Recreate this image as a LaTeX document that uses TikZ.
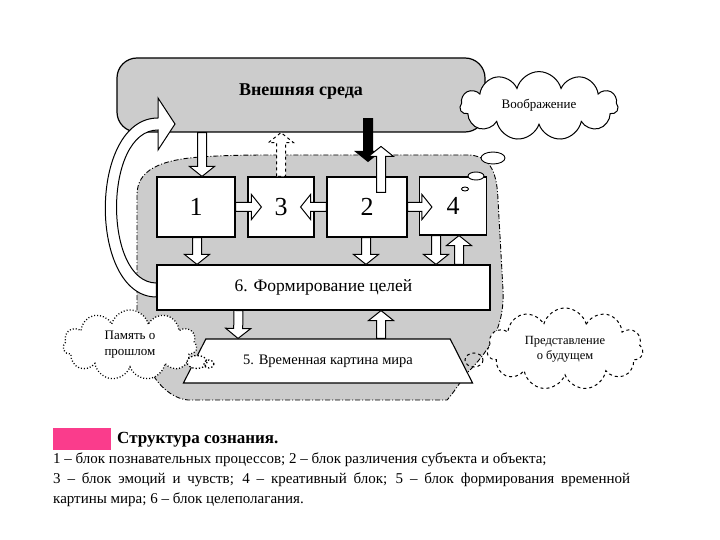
\documentclass[tikz,border=0pt]{standalone}
\usepackage{fontspec}
\setmainfont{Liberation Serif}
\usetikzlibrary{calc,shapes.geometric,shapes.symbols}
\definecolor{legendpink}{RGB}{250,60,140}
\tikzset{
  block/.style={draw, fill=white, line width=1.1pt, minimum height=60pt, font=\fontsize{26}{26}\selectfont},
  blockarrow/.style={draw, fill=white, line width=1pt, line join=miter},
  thought/.style={cloud, cloud puffs=11, aspect=2.3, draw, fill=white, line width=1pt, align=center, inner sep=1pt, font=\fontsize{13}{16}\selectfont},
  region/.style={fill=gray!40, line width=0.9pt, dash pattern=on 5pt off 2pt on 1pt off 2pt},
  legend/.style={anchor=west, inner sep=0pt, font=\fontsize{15}{17}\selectfont}
}
% hollow block arrow from #2 to #3
\newcommand\hollowarrow[3][]{%
  \draw[blockarrow,#1] let \p1=(#2), \p2=(#3),
    \n1={atan2(\y2-\y1,\x2-\x1)}, \n2={veclen(\x2-\x1,\y2-\y1)} in
    {[shift={(\p1)},rotate=\n1]
    (0,-4.5) -- (\n2-10,-4.5) -- (\n2-10,-12.5) -- (\n2,0) -- (\n2-10,12.5) -- (\n2-10,4.5) -- (0,4.5) -- cycle};
}
\begin{document}
\begin{tikzpicture}[x=1pt,y=-1pt]
\useasboundingbox[fill=white] (0,0) rectangle (720,540);
%область сознания
\draw[region] (137,320) -- (137,195) .. controls (137,170) and (160,160) .. (200,157)
  .. controls (230,155) and (250,155) .. (280,155) -- (470,155)
  .. controls (492,157) and (497,175) .. (498,200) -- (503,290)
  .. controls (505,330) and (485,355) .. (468,372)
  .. controls (458,385) and (452,395) .. (447,400) -- (188,400)
  .. controls (165,398) and (140,370) .. (137,320) -- cycle;
\node[draw, fill=gray!40, line width=1.2pt, rounded corners=20pt, minimum width=368pt, minimum height=74pt,
  font=\fontsize{18}{18}\selectfont\bfseries] (env) at (301,95) {\raisebox{10pt}{Внешняя среда}};
%блоки
\node[block, minimum width=78pt] (b1) at (196,207) {1};
\node[block, minimum width=66pt] (b3) at (281,207) {3};
\node[block, minimum width=80pt] (b2) at (367,207) {2};
\node[block, minimum width=67pt, minimum height=58pt] (b4) at (453,206) {4};
\node[block, minimum width=333pt, minimum height=45pt, font=\fontsize{17.5}{17.5}\selectfont] (b6) at (323.5,287.5) {6. Формирование целей};
\node[trapezium, trapezium angle=50, trapezium stretches=true, draw, fill=white, line width=1.1pt,
  minimum width=290pt, minimum height=44pt, font=\fontsize{14.5}{14.5}\selectfont] (b5) at (328,361) {\raisebox{3pt}{5. Временная картина мира}};
%стрелки
\hollowarrow{$(b1.north|-env.south)+(6,0)$}{$(b1.north)+(6,0)$}
\hollowarrow[dashed]{b3.north}{b3.north|-env.south}
\hollowarrow[fill=black]{$(b2.north|-env.south)+(1,-14)$}{$(b2.north)+(1,-15)$}
\hollowarrow{$(b2.north)+(14,16)$}{$(b2.north)+(14,-30)$}
\hollowarrow{b1.east}{$(b3.west)+(14,0)$}
\hollowarrow{b2.west}{$(b3.east)+(-14,0)$}
\hollowarrow{b2.east}{$(b2.east-|b4.west)+(13,0)$}
\hollowarrow{$(b1.south)+(1,0)$}{$(b1.south|-b6.north)+(1,0)$}
\hollowarrow{$(b2.south)+(-1,0)$}{$(b2.south|-b6.north)+(-1,0)$}
\hollowarrow{$(b4.south)+(-17,0)$}{$(b4.south|-b6.north)+(-17,0)$}
\hollowarrow{$(b4.south|-b6.north)+(6,0)$}{$(b4.south)+(6,0)$}
\hollowarrow{$(b6.south)+(-85,0)$}{$(b5.north)+(-90,0)$}
\hollowarrow{$(b5.north)+(53,0)$}{$(b5.north|-b6.south)+(53,0)$}
\coordinate (loopend) at (175,124);
\draw[blockarrow] ($(b6.west)+(0,9.5)$) .. controls (88,297) and (88,118) .. (158,118) -- (158,98) -- (loopend)
  -- (158,150) -- (158,130) .. controls (103,130) and (103,283) .. ($(b6.west)+(0,-4.5)$) -- cycle;
%облака
\node[thought, minimum width=158pt, minimum height=67pt] (imag) at (539,106) {\raisebox{5pt}{Воображение}};
\draw[fill=white, line width=0.9pt] (493,158) ellipse [x radius=12, y radius=6]
  (476,176) ellipse [x radius=8, y radius=4] (465,189) ellipse [x radius=3.5, y radius=2];
\node[thought, dotted, line width=1.3pt, minimum width=134pt, minimum height=70pt] (past) at (130,345) {Память о\\прошлом};
\draw[fill=white, dotted, line width=1.3pt] (197,362) ellipse [x radius=10, y radius=6.5] (209,364) ellipse [x radius=5, y radius=4];
\node[thought, dashed, minimum width=156pt, minimum height=82pt, font=\fontsize{12.5}{15}\selectfont] (future) at (565,349) {Представление\\о будущем};
\draw[dashed, line width=1pt] (474,360) ellipse [x radius=9, y radius=7];
%подпись
\node[fill=legendpink, minimum width=58pt, minimum height=22pt, inner sep=0pt] (swatch) at (82,439) {};
\node[legend, font=\fontsize{17}{17}\selectfont\bfseries] (title) at (117,440) {Структура сознания.};
\node[legend] (line1) at (53,460) {1 – блок познавательных процессов; 2 – блок различения субъекта и объекта;};
\node[legend] (line2) at (53,480) {\makebox[577pt][s]{3 – блок эмоций и чувств; 4 – креативный блок; 5 – блок формирования временной}};
\node[legend] (line3) at (53,500) {картины мира; 6 – блок целеполагания.};
\end{tikzpicture}
\end{document}
